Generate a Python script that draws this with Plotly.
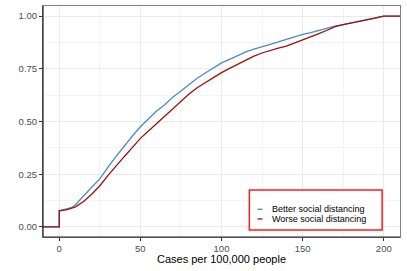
import plotly.graph_objects as go

# ECDF read-offs (cases per 100,000 people -> cumulative proportion)
x_better = [-10, 0, 0, 5, 8, 10, 15, 18, 20, 25, 28, 30, 35, 40, 45, 50, 55, 60, 65, 70, 75, 80, 85,
            90, 95, 100, 105, 110, 115, 120, 125, 130, 135, 140, 145, 150, 155, 160, 165, 170,
            175, 180, 185, 190, 195, 200, 210]
y_better = [0, 0, 0.076, 0.085, 0.093, 0.105, 0.148, 0.172, 0.188, 0.228, 0.262, 0.282, 0.335, 0.385,
            0.43, 0.475, 0.515, 0.55, 0.58, 0.615, 0.645, 0.675, 0.705, 0.73, 0.755, 0.778, 0.795,
            0.812, 0.83, 0.843, 0.856, 0.866, 0.878, 0.89, 0.902, 0.913, 0.922, 0.933, 0.944,
            0.952, 0.96, 0.967, 0.973, 0.982, 0.99, 1.0, 1.0]

x_worse = [-10, 0, 0, 5, 10, 15, 20, 25, 30, 35, 40, 45, 50, 55, 60, 65, 70, 75, 80, 85, 90, 95,
           100, 105, 110, 115, 120, 125, 130, 135, 140, 145, 150, 155, 160, 165, 170, 175, 180,
           185, 190, 195, 200, 210]
y_worse = [0, 0, 0.076, 0.082, 0.095, 0.12, 0.155, 0.195, 0.243, 0.29, 0.333, 0.376, 0.42, 0.455,
           0.49, 0.523, 0.56, 0.597, 0.63, 0.66, 0.685, 0.71, 0.732, 0.752, 0.772, 0.79, 0.81,
           0.825, 0.838, 0.848, 0.858, 0.872, 0.888, 0.903, 0.917, 0.933, 0.95, 0.96, 0.968,
           0.976, 0.985, 0.993, 1.0, 1.0]

names = ["Better social distancing", "Worse social distancing"]
colors = ["#4B8BC4", "#A00E0E"]

x_ticks = [0, 50, 100, 150, 200]
y_ticks = [0, 0.25, 0.5, 0.75, 1.0]
y_tick_text = ["0.00", "0.25", "0.50", "0.75", "1.00"]
x_title = "Cases per 100,000 people"

font = "Liberation Sans, Arial, sans-serif"

fig = go.Figure()
for xs, ys, nm, c in [(x_better, y_better, names[0], colors[0]), (x_worse, y_worse, names[1], colors[1])]:
    fig.add_trace(go.Scatter(x=xs, y=ys, mode="lines", name=nm, showlegend=False,
                             line=dict(color=c, width=1.3)))

axis_common = dict(showgrid=True, gridcolor="#EBEBEB", gridwidth=1, zeroline=False,
                   showline=True, linecolor="#7F7F7F", linewidth=1, mirror=True,
                   ticks="outside", ticklen=3, tickcolor="#333333", tickwidth=1, automargin=False,
                   tickfont=dict(family=font, size=9.5, color="#4D4D4D"))

fig.update_xaxes(range=[-10, 210], tickvals=x_ticks, ticktext=[str(v) for v in x_ticks],
                 minor=dict(dtick=25, tick0=25, showgrid=True, gridcolor="#F3F3F3", gridwidth=0.6),
                 **axis_common)
fig.update_yaxes(range=[-0.048, 1.048], tickvals=y_ticks, ticktext=y_tick_text,
                 minor=dict(dtick=0.125, tick0=0.125, showgrid=True, gridcolor="#F3F3F3", gridwidth=0.6),
                 **axis_common)

shapes = [
    # dark left and bottom axis lines
    dict(type="line", xref="x domain", yref="y domain", x0=0, x1=0, y0=0, y1=1,
         line=dict(color="#222222", width=1.2), layer="above"),
    dict(type="line", xref="x domain", yref="y domain", x0=0, x1=1, y0=0, y1=0,
         line=dict(color="#222222", width=1.2), layer="above"),
    # legend box
    dict(type="rect", xref="paper", yref="paper", x0=0.578, x1=0.95, y0=0.03, y1=0.203,
         line=dict(color="#FF1A1A", width=1.5), fillcolor="white", layer="above"),
]
annotations = [dict(xref="paper", yref="paper", x=0.5, y=0, yshift=-22, text=x_title, showarrow=False,
                    xanchor="center", yanchor="middle",
                    font=dict(family=font, size=11, color="#000000"))]
for i, (nm, c) in enumerate(zip(names, colors)):
    yy = 0.12 - i * 0.042
    shapes.append(dict(type="line", xref="paper", yref="paper", x0=0.601, x1=0.615, y0=yy, y1=yy,
                       line=dict(color=c, width=1.3), layer="above"))
    annotations.append(dict(xref="paper", yref="paper", x=0.636, y=yy, text=nm, showarrow=False,
                            xanchor="left", yanchor="middle",
                            font=dict(family=font, size=9, color="#000000")))

fig.update_layout(width=407, height=271, margin=dict(l=43, r=7, t=6, b=34),
                  paper_bgcolor="white", plot_bgcolor="white", shapes=shapes, annotations=annotations,
                  font=dict(family=font))

fig.write_html("out.html", config={"displayModeBar": False},
               post_script="document.body.style.margin='0';document.body.style.overflow='hidden';")
